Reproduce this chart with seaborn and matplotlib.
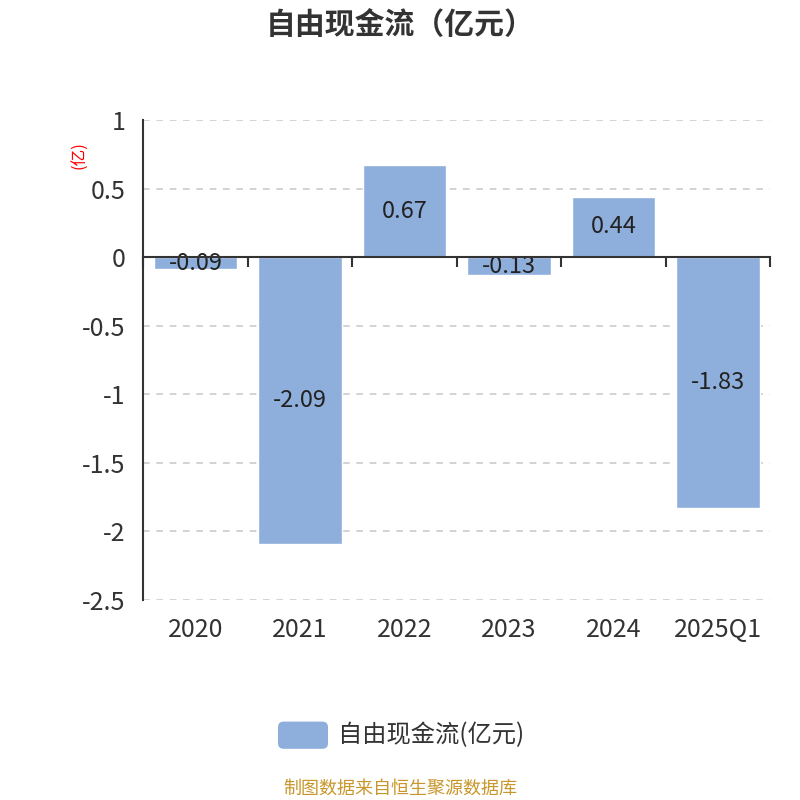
import pandas as pd
import matplotlib
matplotlib.use("Agg")
import matplotlib.pyplot as plt
from matplotlib.patches import FancyBboxPatch
import seaborn as sns

# data
periods = ["2020", "2021", "2022", "2023", "2024", "2025Q1"]
fcf = [-0.09, -2.09, 0.67, -0.13, 0.44, -1.83]
y_ticks = [1, 0.5, 0, -0.5, -1, -1.5, -2, -2.5]
y_tick_labels = ["1", "0.5", "0", "-0.5", "-1", "-1.5", "-2", "-2.5"]

sns.set_style("white")
plt.rcParams["font.family"] = ["Noto Sans CJK SC", "DejaVu Sans"]
plt.rcParams["axes.unicode_minus"] = False

bar_color = "#8eaedb"
axis_color = "#333333"

df = pd.DataFrame({"period": periods, "value": fcf})

fig = plt.figure(figsize=(8, 8), dpi=100)
ax = fig.add_axes([0.179, 0.25, 0.784, 0.60])

sns.barplot(data=df, x="period", y="value", color=bar_color, width=0.8,
            saturation=1, ax=ax)

ax.set_xlim(-0.5, len(periods) - 0.5)
ax.set_ylim(-2.5, 1)
ax.set_xlabel("")
ax.set_ylabel("")

# y axis
ax.set_yticks(y_ticks)
ax.set_yticklabels(y_tick_labels, fontsize=18, color=axis_color)
ax.tick_params(axis="y", length=8, width=1.5, color=axis_color, pad=5)
for t in y_ticks:
    if t != 0:
        ax.axhline(t, color="#cccccc", lw=1.2, ls=(0, (4, 4)), zorder=0)

# x labels at bottom, no tick marks there
ax.tick_params(axis="x", length=0, labelsize=18, labelcolor=axis_color, pad=12)

for side in ["top", "right", "bottom"]:
    ax.spines[side].set_visible(False)
ax.spines["left"].set_color(axis_color)
ax.spines["left"].set_linewidth(1.5)

# zero line axis with ticks at category boundaries
zero_pos = (0 - (-2.5)) / 3.5
sec = ax.secondary_xaxis(zero_pos)
sec.set_alignment("bottom")
sec.set_zorder(10)
sec.set_xticks([i - 0.5 for i in range(len(periods) + 1)])
sec.set_xticklabels([])
sec.tick_params(axis="x", direction="out", length=7, width=1.5, color=axis_color)
sec.spines["bottom"].set_color(axis_color)
sec.spines["bottom"].set_linewidth(1.5)

# value labels in the middle of bars
for i, v in enumerate(fcf):
    ax.text(i, v / 2, f"{v:.2f}", ha="center", va="center",
            fontsize=17, color="#222222", zorder=5)

# unit label
fig.text(0.1, 0.806, "(亿)", color="red", fontsize=12, rotation=90,
         ha="center", va="center")

# title
fig.text(0.5, 0.969, "自由现金流（亿元）", ha="center", va="center",
         fontsize=21.5, fontweight="bold", color=axis_color)

# legend
patch = FancyBboxPatch((0.3475, 0.064), 0.0625, 0.034,
                       boxstyle="round,pad=0,rounding_size=0.007",
                       transform=fig.transFigure, facecolor=bar_color,
                       edgecolor="none")
fig.patches.append(patch)
fig.text(0.4225, 0.081, "自由现金流(亿元)", ha="left", va="center",
         fontsize=17.5, color=axis_color)

# source note
fig.text(0.5, 0.014, "制图数据来自恒生聚源数据库", ha="center", va="center",
         fontsize=13, color="#c8962a")

fig.savefig("out.png", dpi=100)
